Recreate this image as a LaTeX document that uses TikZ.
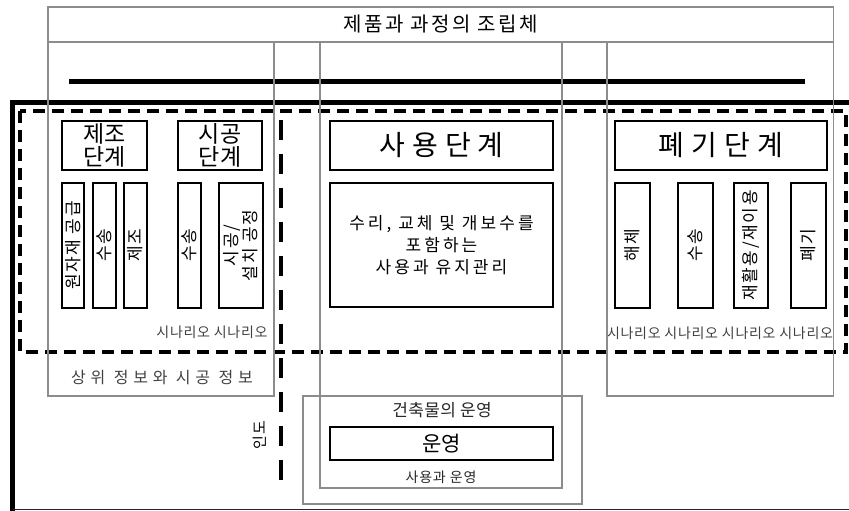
\documentclass[tikz,border=0pt]{standalone}
\usepackage{fontspec}
\setmainfont{Noto Sans CJK KR}[LetterSpace=10]
\usepackage{tikz}
\usetikzlibrary{positioning}

\begin{document}
\begin{tikzpicture}[
    x=1pt, y=-1pt,
    colbox/.style={rectangle, draw=black!45, line width=1.2pt, inner sep=0pt},
    stagebox/.style={rectangle, draw, line width=1.8pt, inner sep=0pt, align=center},
    item/.style={rectangle, draw, line width=1.8pt, inner sep=0pt, rotate=90, minimum width=125pt, align=center, font=\fontsize{17}{19}\selectfont},
    scen/.style={inner sep=0pt, text=black!75, font=\fontsize{14}{16}\selectfont\addfontfeature{LetterSpace=5}},
    frame/.style={line width=5pt},
    dashframe/.style={line width=4pt, dash pattern=on 12pt off 7pt}
]
    \useasboundingbox (0,0) rectangle (849,511);

    % frames
    \draw[frame] (849,102.5) -- (12.5,102.5) -- (12.5,511);
    \draw[line width=1.5pt, black!85] (12.5,509.5) -- (849,509.5);
    \draw[dashframe] (20,111) rectangle (846,352);
    \draw[line width=4.5pt] (69,81.7) -- (805,81.7);
    \draw[line width=4pt, dash pattern=on 20pt off 14pt] (281,120) -- (281,482);

    % assembly and columns
    \node[colbox, minimum width=785.5pt, minimum height=35pt, font=\fontsize{20}{22}\selectfont\addfontfeature{LetterSpace=12}] (assembly) at (440.75,24.5) {제품과 과정의 조립체};
    \node[colbox, minimum width=226pt, minimum height=354pt] (colL) at (161,219) {};
    \node[colbox, minimum width=242pt, minimum height=446pt] (colM) at (441,265) {};
    \node[colbox, minimum width=226.5pt, minimum height=354pt] (colR) at (720.25,219) {};
    \node[colbox, minimum width=279pt, minimum height=108pt] (building) at (442.5,450) {};

    % stages
    \node[stagebox, minimum width=85pt, minimum height=49pt, font=\fontsize{23}{23}\selectfont\addfontfeature{LetterSpace=0}] (mfg) at (104.5,145.5) {제조\\단계};
    \node[stagebox, minimum width=84pt, minimum height=49pt, font=\fontsize{23}{23}\selectfont\addfontfeature{LetterSpace=0}] (con) at (220,145.5) {시공\\단계};
    \node[stagebox, minimum width=223pt, minimum height=49pt, font=\fontsize{28}{30}\selectfont\addfontfeature{LetterSpace=25}] (use) at (441.5,145.5) {사용단계};
    \node[stagebox, minimum width=212pt, minimum height=49pt, font=\fontsize{28}{30}\selectfont\addfontfeature{LetterSpace=25}] (eol) at (721,145.5) {폐기단계};

    % items
    \node[item, minimum height=22pt] (raw) at (73,245.5) {원자재 공급};
    \node[item, minimum height=23pt] (trA) at (104.5,245.5) {수송};
    \node[item, minimum height=23pt] (make) at (135.5,245.5) {제조};
    \node[item, minimum height=23pt] (trB) at (189.5,245.5) {수송};
    \node[item, minimum height=44pt] (inst) at (241,245.5) {시공/\\설치 공정};
    \node[stagebox, minimum width=223pt, minimum height=124pt, font=\fontsize{17}{22}\selectfont\addfontfeature{LetterSpace=18}] (maint) at (441.5,245) {수리, 교체 및 개보수를\\포함하는\\사용과 유지관리};
    \node[item, minimum height=35pt] (demo) at (632.5,245.5) {해체};
    \node[item, minimum height=35pt] (trC) at (695.5,245.5) {수송};
    \node[item, minimum height=34pt] (recy) at (751,245.5) {재활용/재이용};
    \node[item, minimum height=35pt] (disp) at (808.5,245.5) {폐기};

    % scenarios and info
    \node[scen] (scenL) at (212,332) {시나리오 시나리오};
    \node[scen] (scenR) at (720,333) {시나리오 시나리오 시나리오 시나리오};
    \node[scen, font=\fontsize{16}{19}\selectfont\addfontfeature{LetterSpace=30}] (info) at (162,378) {상위 정보와 시공 정보};
    \node[inner sep=0pt, rotate=90, font=\fontsize{15}{17}\selectfont] (handover) at (260,435) {인도};

    % operation
    \node[inner sep=0pt, font=\fontsize{17}{20}\selectfont\addfontfeature{LetterSpace=2}, text=black!85] (bldgop) at (442,410) {건축물의 운영};
    \node[stagebox, minimum width=223pt, minimum height=33pt, font=\fontsize{21}{24}\selectfont\addfontfeature{LetterSpace=0}] (op) at (441.5,443.5) {운영};
    \node[inner sep=0pt, font=\fontsize{14}{16}\selectfont\addfontfeature{LetterSpace=6}, text=black!85] (useop) at (441,477) {사용과 운영};
\end{tikzpicture}
\end{document}
